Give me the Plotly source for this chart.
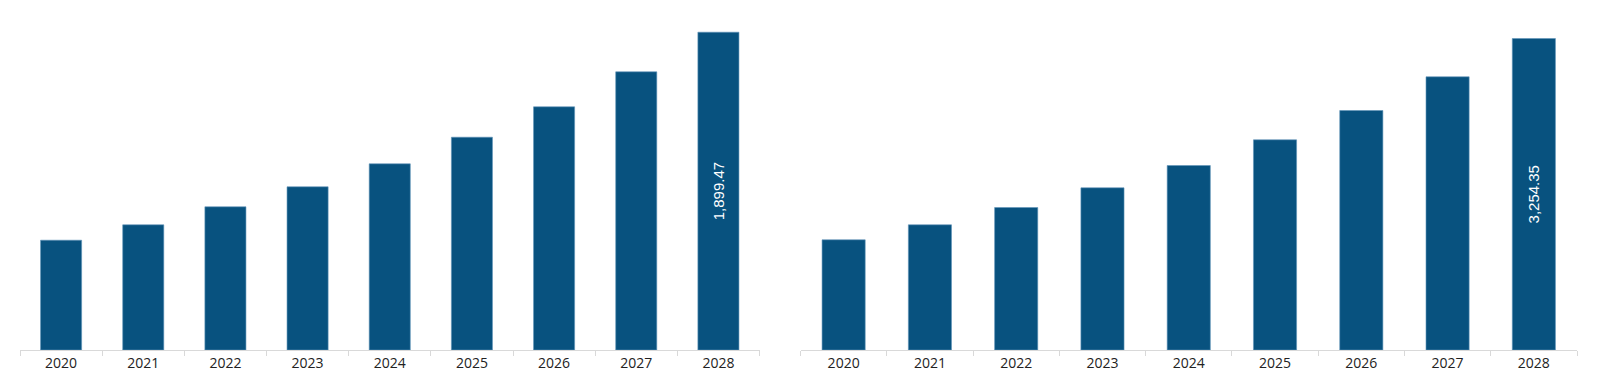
import plotly.graph_objects as go
from plotly.subplots import make_subplots

years = ["2020", "2021", "2022", "2023", "2024", "2025", "2026", "2027", "2028"]
left_values = [656.3, 748.3, 855.9, 975.4, 1112.9, 1271.9, 1453.6, 1662.8, 1899.47]
right_values = [1151.3, 1308.0, 1488.7, 1694.5, 1927.5, 2196.0, 2502.0, 2854.2, 3254.35]

BAR = "#08527f"
AXIS = "#d9d9d9"
W, H = 1590, 384

def labels(vals):
    return ["" for _ in vals[:-1]] + [f"{vals[-1]:,.2f}"]

fig = make_subplots(rows=1, cols=2, horizontal_spacing=0.0)

for i, vals in enumerate([left_values, right_values], start=1):
    fig.add_trace(go.Bar(
        x=years, y=vals, text=labels(vals),
        textposition="inside", textangle=-90, insidetextanchor="middle",
        constraintext="none",
        textfont=dict(family="Liberation Sans, Arial, sans-serif", size=15, color="white"),
        marker=dict(color=BAR, line=dict(color="#5f93b8", width=0.6)),
        hoverinfo="skip", showlegend=False,
    ), row=1, col=i)

fig.update_layout(
    width=W, height=H,
    margin=dict(l=0, r=0, t=0, b=42),
    paper_bgcolor="white", plot_bgcolor="white",
    bargap=0.5,
    xaxis=dict(domain=[12/W, 751.5/W]),
    xaxis2=dict(domain=[792.5/W, 1569/W]),
    yaxis=dict(range=[0, 2044.1]),
    yaxis2=dict(range=[0, 3573.0]),
)

fig.update_xaxes(
    type="category", showline=True, linecolor=AXIS, linewidth=1,
    ticks="outside", tickson="boundaries", ticklen=5, tickcolor=AXIS,
    showgrid=False, zeroline=False,
    tickfont=dict(family="Open Sans, sans-serif", size=14, color="#222222"),
)
fig.update_yaxes(visible=False, showgrid=False, zeroline=False)

fig.write_html("out.html")
